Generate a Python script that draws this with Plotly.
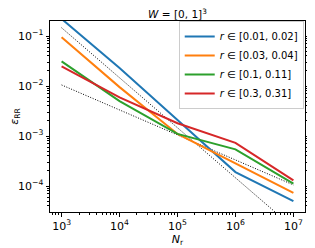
import plotly.graph_objects as go

N_r = [1e3, 1e4, 1e5, 1e6, 1e7]
labels = ["<i>r</i> ∈ [0.01, 0.02]", "<i>r</i> ∈ [0.03, 0.04]",
          "<i>r</i> ∈ [0.1, 0.11]", "<i>r</i> ∈ [0.3, 0.31]"]
eps_001 = [0.22, 0.023, 0.0021, 1.9e-4, 5.0e-5]
eps_003 = [0.094, 0.0095, 0.0011, 2.8e-4, 7.3e-5]
eps_010 = [0.031, 0.0050, 0.0011, 5.4e-4, 1.12e-4]
eps_030 = [0.0246, 0.0059, 0.0018, 7.3e-4, 1.3e-4]
ref_slope1 = [0.146, 0.0146, 0.00146, 0.000146, 0.0000146]
ref_slope_half = [0.0105, 0.0033, 0.00105, 0.00033, 0.000105]
x_ticks = [1e3, 1e4, 1e5, 1e6, 1e7]
x_ticktext = ["10<sup>3</sup>", "10<sup>4</sup>", "10<sup>5</sup>", "10<sup>6</sup>", "10<sup>7</sup>"]
y_ticks = [1e-4, 1e-3, 1e-2, 1e-1]
y_ticktext = ["10<sup>−4</sup>", "10<sup>−3</sup>", "10<sup>−2</sup>", "10<sup>−1</sup>"]

colors = ["#1f77b4", "#ff7f0e", "#2ca02c", "#d62728"]
series = [eps_001, eps_003, eps_010, eps_030]

fig = go.Figure()
for ref in [ref_slope1, ref_slope_half]:
    fig.add_trace(go.Scatter(x=N_r, y=ref, mode="lines", showlegend=False,
                             line=dict(color="black", width=1, dash="1px,1.6px")))
for lab, ys, c in zip(labels, series, colors):
    fig.add_trace(go.Scatter(x=N_r, y=ys, mode="lines", name=lab,
                             line=dict(color=c, width=2)))

axis_common = dict(type="log", showgrid=False, zeroline=False, showline=True,
                   linecolor="black", linewidth=1, ticks="outside", ticklen=3.5,
                   tickcolor="black", automargin=False,
                   tickfont=dict(size=11, color="black"),
                   minor=dict(ticks="outside", ticklen=2, tickcolor="black",
                              dtick="D1", showgrid=False))

fig.update_xaxes(**axis_common, range=[2.8, 7.2], mirror=True,
                 tickvals=x_ticks, ticktext=x_ticktext,
                 title=dict(text="<i>N</i><sub>r</sub>", font=dict(size=11, color="black"), standoff=2))
fig.update_yaxes(**axis_common, range=[-4.52, -0.70], mirror="ticks",
                 tickvals=y_ticks, ticktext=y_ticktext,
                 title=dict(text="<i>ε</i><sub>RR</sub>", font=dict(size=11, color="black"), standoff=4))

# page body has an 8px margin, so the figure is sized/offset to compensate
fig.update_layout(
    width=307, height=240,
    margin=dict(l=42, r=10, t=13, b=36),
    paper_bgcolor="white", plot_bgcolor="white",
    font=dict(family="DejaVu Sans", size=11, color="black"),
    title=dict(text="<i>W</i> = [0, 1]<sup>3</sup>", x=0.5, xref="paper", xanchor="center",
               y=1, yanchor="top", pad=dict(t=3), font=dict(size=10.5, color="black")),
    legend=dict(x=0.995, y=1.0, xanchor="right", yanchor="top",
                bgcolor="rgba(255,255,255,0.8)", bordercolor="#cccccc", borderwidth=1,
                font=dict(size=10), tracegroupgap=0, itemwidth=30),
)

fig.write_html("out.html")
